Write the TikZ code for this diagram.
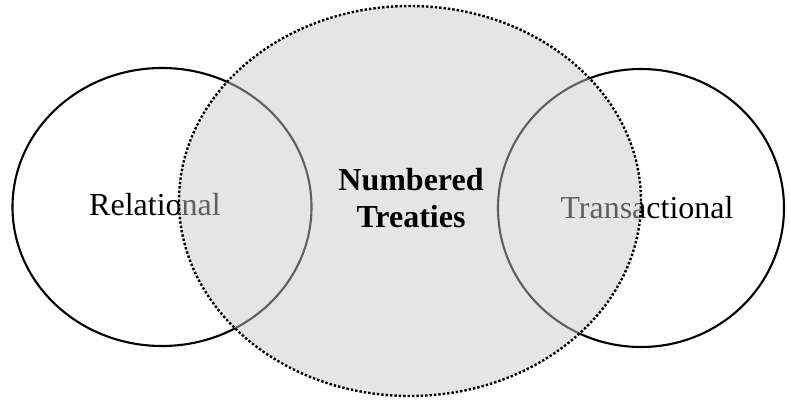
\documentclass[tikz,border=0pt]{standalone}
\usepackage{fontspec}
\setmainfont{Liberation Serif}
\usetikzlibrary{shapes.geometric}

\tikzset{
    outer/.style={ellipse, draw=black, line width=2.1pt},
    inner/.style={ellipse, draw=black, dotted, line width=2.4pt,
        fill={rgb,255:red,200;green,200;blue,200}, fill opacity=0.48, draw opacity=1},
    label/.style={font=\fontsize{32}{37}\selectfont}
}

\begin{document}
\begin{tikzpicture}[x=1pt, y=-1pt]
            \useasboundingbox (0,0) rectangle (791,400);

            \node[outer, minimum width=299pt, minimum height=278pt] (relational) at (162,207) {};
            \node[outer, minimum width=286pt, minimum height=278pt] (transactional) at (641,208) {};

            \node[label, anchor=base] (reltext) at (155,215) {Relational};
            \node[label, anchor=base] (transtext) at (647,218) {Transactional};

            \node[inner, minimum width=462pt, minimum height=390pt] (treaties) at (410,201) {};

            \node[label, align=center, font=\fontsize{32}{37}\selectfont\bfseries] (treatiestext) at (411,198) {Numbered\\Treaties};

        \end{tikzpicture}
\end{document}
